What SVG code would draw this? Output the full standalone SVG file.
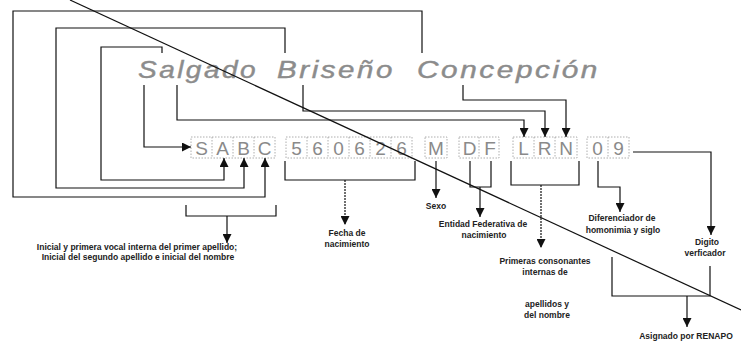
<svg xmlns="http://www.w3.org/2000/svg" width="741" height="350" viewBox="0 0 741 350">
<style>
.ln{fill:none;stroke:#111;stroke-width:1.2}
.dl{fill:none;stroke:#111;stroke-width:1.2;stroke-dasharray:2,1}
.bx{fill:none;stroke:#999;stroke-width:0.8;stroke-dasharray:1.5,1.5}
.ch{font-family:"Liberation Sans",Arial,sans-serif;font-size:19px;fill:#8a8a8a;text-anchor:middle}
.nm{font-family:"Liberation Sans",Arial,sans-serif;font-size:23px;font-style:italic;fill:#8c8c8c;stroke:#8c8c8c;stroke-width:0.4;letter-spacing:2px}
.lb{font-family:"Liberation Sans",Arial,sans-serif;font-size:8.5px;font-weight:bold;fill:#222;text-anchor:middle}
</style>
<defs>
<marker id="ah" viewBox="0 0 10 10" refX="10" refY="5" markerWidth="9" markerHeight="9" markerUnits="userSpaceOnUse" orient="auto">
<path d="M0,0 L10,5 L0,10 Z" fill="#111"/>
</marker>
</defs>
<rect width="741" height="350" fill="#fff"/>

<g id="name">
<text class="nm" x="138" y="78" textLength="120" lengthAdjust="spacingAndGlyphs">Salgado</text>
<text class="nm" x="277" y="78" textLength="118" lengthAdjust="spacingAndGlyphs">Briseño</text>
<text class="nm" x="417" y="78" textLength="183" lengthAdjust="spacingAndGlyphs">Concepción</text>
</g>

<g id="code-SABC">
<rect class="bx" x="191" y="137" width="84" height="21"/>
<path class="bx" d="M212,137V158M233,137V158M254,137V158"/>
<text class="ch" x="201.5" y="155">S</text>
<text class="ch" x="222.5" y="155">A</text>
<text class="ch" x="243.5" y="155">B</text>
<text class="ch" x="264.5" y="155">C</text>
</g>
<g id="code-date">
<rect class="bx" x="286" y="137" width="126" height="21"/>
<path class="bx" d="M307,137V158M328,137V158M349,137V158M370,137V158M391,137V158"/>
<text class="ch" x="296.5" y="155">5</text>
<text class="ch" x="317.5" y="155">6</text>
<text class="ch" x="338.5" y="155">0</text>
<text class="ch" x="359.5" y="155">6</text>
<text class="ch" x="380.5" y="155">2</text>
<text class="ch" x="401.5" y="155">6</text>
</g>
<g id="code-M">
<rect class="bx" x="425" y="137" width="22" height="21"/>
<text class="ch" x="436" y="155">M</text>
</g>
<g id="code-DF">
<rect class="bx" x="459" y="137" width="40" height="21"/>
<path class="bx" d="M479,137V158"/>
<text class="ch" x="469.5" y="155">D</text>
<text class="ch" x="490" y="155">F</text>
</g>
<g id="code-LRN">
<rect class="bx" x="513" y="137" width="64" height="21"/>
<path class="bx" d="M534,137V158M555,137V158"/>
<text class="ch" x="523.5" y="155">L</text>
<text class="ch" x="544.5" y="155">R</text>
<text class="ch" x="566" y="155">N</text>
</g>
<g id="code-09">
<rect class="bx" x="587" y="137" width="42" height="21"/>
<path class="bx" d="M608,137V158"/>
<text class="ch" x="597.5" y="155">0</text>
<text class="ch" x="618.5" y="155">9</text>
</g>

<g id="labels">
<text class="lb" x="137" y="250">Inicial y primera vocal interna del primer apellido;</text>
<text class="lb" x="138" y="260">Inicial del segundo apellido e inicial del nombre</text>
<text class="lb" x="347" y="236">Fecha de</text>
<text class="lb" x="347" y="247">nacimiento</text>
<text class="lb" x="436" y="209">Sexo</text>
<text class="lb" x="483" y="227">Entidad Federativa de</text>
<text class="lb" x="484" y="238">nacimiento</text>
<text class="lb" x="545" y="264">Primeras consonantes</text>
<text class="lb" x="545" y="275">internas de</text>
<text class="lb" x="547" y="307">apellidos y</text>
<text class="lb" x="547" y="318">del nombre</text>
<text class="lb" x="622" y="221">Diferenciador de</text>
<text class="lb" x="623" y="233">homonimia y siglo</text>
<text class="lb" x="707" y="245">Digito</text>
<text class="lb" x="705" y="256">verficador</text>
<text class="lb" x="686" y="339">Asignado por RENAPO</text>
</g>

<g id="connectors">
<path class="ln" d="M422,53V11H13V197H265V158" marker-end="url(#ah)"/>
<path class="ln" d="M285,53V28H56V188H244V158" marker-end="url(#ah)"/>
<path class="ln" d="M162,53V47H101V180H224V158" marker-end="url(#ah)"/>
<path class="ln" d="M144,85V147H191" marker-end="url(#ah)"/>
<path class="ln" d="M177,85V120H524V137" marker-end="url(#ah)"/>
<path class="ln" d="M303,85V111H545V137" marker-end="url(#ah)"/>
<path class="ln" d="M463,85V100H566V137" marker-end="url(#ah)"/>
<path class="ln" d="M186,205V216H276V205"/>
<path class="ln" d="M227,216V243" marker-end="url(#ah)"/>
<path class="ln" d="M285,161V180H415V161"/>
<path class="dl" d="M345,180V225" marker-end="url(#ah)"/>
<path class="ln" d="M436,161V198" marker-end="url(#ah)"/>
<path class="ln" d="M470,161V187H491V161"/>
<path class="ln" d="M480,187V217" marker-end="url(#ah)"/>
<path class="ln" d="M511,161V185H579V161"/>
<path class="dl" d="M541,185V248" marker-end="url(#ah)"/>
<path class="ln" d="M598,161V187H620V212" marker-end="url(#ah)"/>
<path class="ln" d="M633,152H711V235" marker-end="url(#ah)"/>
<path class="ln" d="M612,257V296H710V266"/>
<path class="ln" d="M687,296V327" marker-end="url(#ah)"/>
<path class="ln" d="M70,0L741,310"/>
</g>
</svg>
